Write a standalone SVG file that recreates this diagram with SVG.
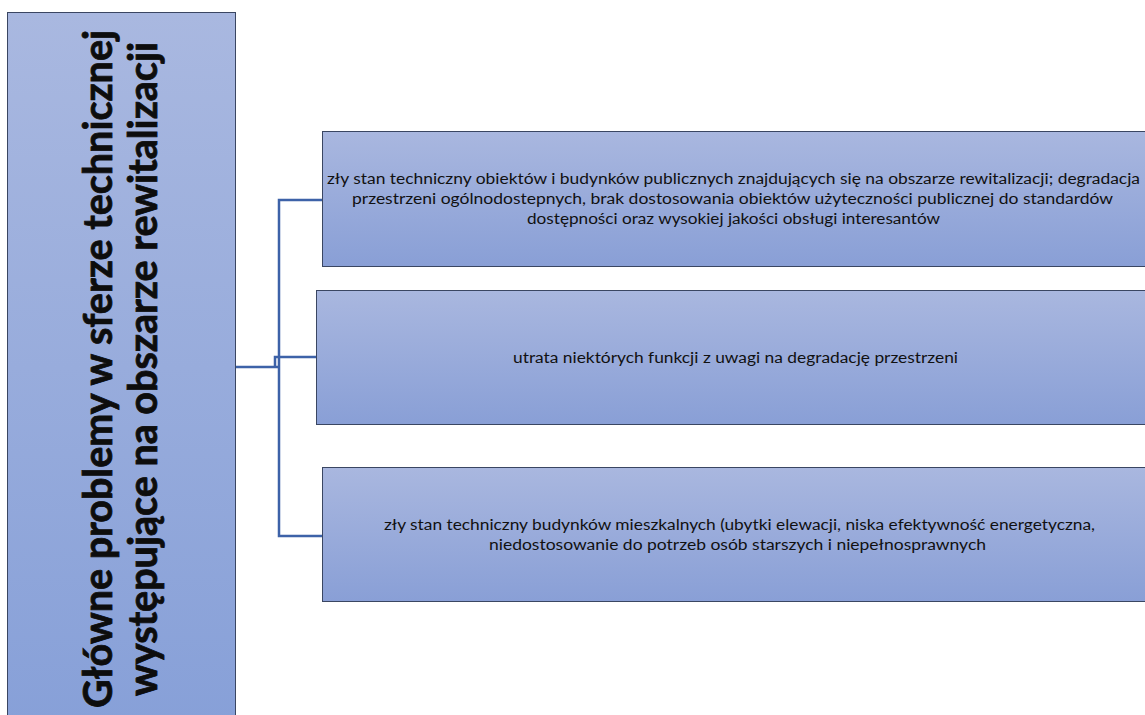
<svg xmlns="http://www.w3.org/2000/svg" width="1145" height="715" viewBox="0 0 1145 715">
<style>
.box{stroke:#3a4662;stroke-width:1}
.conn{fill:none;stroke:#3d62a8;stroke-width:2.5}
.t{font-family:Lato,"Open Sans","Liberation Sans",sans-serif;font-size:15.5px;fill:#111;text-anchor:middle}
.title{font-family:Lato,"Open Sans","Liberation Sans",sans-serif;font-size:40px;font-weight:bold;fill:#0d0d0d;stroke:#0d0d0d;stroke-width:0.8;text-anchor:middle}
</style>
<defs>
<linearGradient id="gBig" x1="0" y1="0" x2="0" y2="1">
<stop offset="0" stop-color="#a9b8e0"/>
<stop offset="1" stop-color="#87a0d8"/>
</linearGradient>
<linearGradient id="gBox" x1="0" y1="0" x2="0" y2="1">
<stop offset="0" stop-color="#a9b7df"/>
<stop offset="1" stop-color="#899fd6"/>
</linearGradient>
</defs>
<rect width="1145" height="715" fill="#ffffff"/>
<g id="connectors">
<path class="conn" d="M235,367 H279"/>
<path class="conn" d="M322,200 H279 V536 H322"/>
<path class="conn" d="M275,367 V357 H316"/>
</g>
<g id="main">
<rect class="box" x="7.5" y="12.5" width="228" height="710" fill="url(#gBig)"/>
<text class="title" transform="translate(112,369) rotate(-90)" textLength="678" lengthAdjust="spacingAndGlyphs">Główne problemy w sferze technicznej</text>
<text class="title" transform="translate(157,369) rotate(-90)" textLength="654" lengthAdjust="spacingAndGlyphs">występujące na obszarze rewitalizacji</text>
</g>
<g id="node1">
<rect class="box" x="322.5" y="131.5" width="830" height="135" fill="url(#gBox)"/>
<text class="t" x="733.5" y="184" textLength="813" lengthAdjust="spacingAndGlyphs">zły stan techniczny obiektów i budynków publicznych znajdujących się na obszarze rewitalizacji; degradacja</text>
<text class="t" x="732.5" y="204" textLength="761" lengthAdjust="spacingAndGlyphs">przestrzeni ogólnodostepnych, brak dostosowania obiektów użyteczności publicznej do standardów</text>
<text class="t" x="733.5" y="224" textLength="413" lengthAdjust="spacingAndGlyphs">dostępności oraz wysokiej jakości obsługi interesantów</text>
</g>
<g id="node2">
<rect class="box" x="316.5" y="290.5" width="836" height="134" fill="url(#gBox)"/>
<text class="t" x="735.5" y="363" textLength="445" lengthAdjust="spacingAndGlyphs">utrata niektórych funkcji z uwagi na degradację przestrzeni</text>
</g>
<g id="node3">
<rect class="box" x="322.5" y="467.5" width="830" height="134" fill="url(#gBox)"/>
<text class="t" x="739.5" y="530" textLength="711" lengthAdjust="spacingAndGlyphs">zły stan techniczny budynków mieszkalnych (ubytki elewacji, niska efektywność energetyczna,</text>
<text class="t" x="737.5" y="550" textLength="497" lengthAdjust="spacingAndGlyphs">niedostosowanie do potrzeb osób starszych i niepełnosprawnych</text>
</g>
</svg>
